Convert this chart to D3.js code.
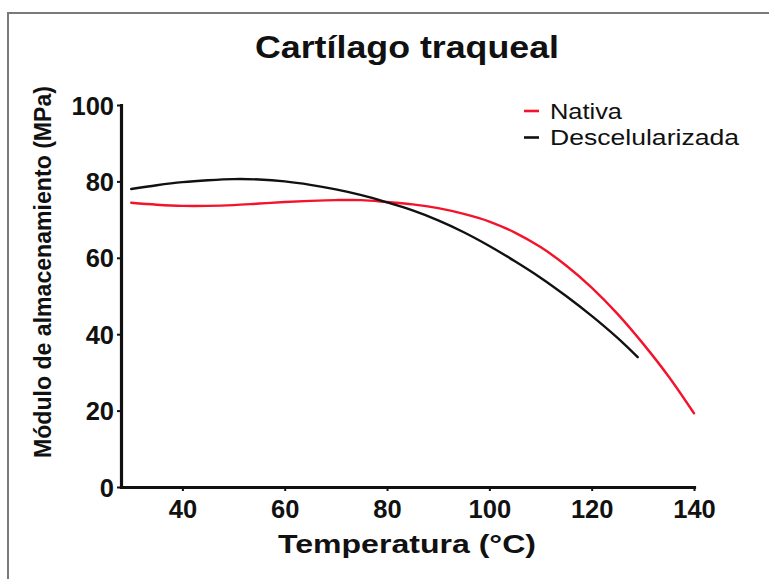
<!DOCTYPE html>
<html>
<head>
<meta charset="utf-8">
<script src="https://cdn.jsdelivr.net/npm/d3@7"></script>
<style>
  html, body { margin: 0; padding: 0; background: #fff; }
  svg { display: block; }
  text { font-family: "Liberation Sans", Arial, sans-serif; fill: #111; }
</style>
</head>
<body>
<svg id="chart" width="769" height="579"></svg>
<script>
// Storage modulus of tracheal cartilage versus temperature
const temperaturaNativa = [30, 35, 40, 45, 50, 55, 60, 65, 70, 75, 80, 85, 90, 95, 100, 105, 110, 115, 120, 125, 130, 135, 140];
const moduloNativa      = [74.4, 73.9, 73.6, 73.6, 73.8, 74.2, 74.6, 74.9, 75.1, 75.1, 74.6, 74.0, 73.0, 71.5, 69.5, 66.6, 62.8, 58.0, 52.2, 45.4, 37.6, 29.0, 19.3];

const temperaturaDescel = [30, 35, 40, 45, 50, 55, 60, 65, 70, 75, 80, 85, 90, 95, 100, 105, 110, 115, 120, 125, 129];
const moduloDescel      = [78.0, 79.0, 79.8, 80.3, 80.6, 80.5, 80.0, 79.1, 77.9, 76.4, 74.5, 72.4, 69.8, 66.7, 63.1, 59.1, 54.8, 50.0, 44.8, 39.1, 34.0];

const xTicks = [40, 60, 80, 100, 120, 140];
const yTicks = [0, 20, 40, 60, 80, 100];

const seriesNames  = ["Nativa", "Descelularizada"];
const seriesColors = ["#f3142c", "#111111"];

const svg = d3.select("#chart");

// outer frame
svg.append("path")
  .attr("d", "M8,579V13H769")
  .attr("fill", "none")
  .attr("stroke", "#7a7a7a")
  .attr("stroke-width", 2);

const x = d3.scaleLinear().domain([28, 140]).range([121, 694]);
const y = d3.scaleLinear().domain([0, 100]).range([487, 105]);

// title
svg.append("text")
  .attr("x", 407).attr("y", 58)
  .attr("text-anchor", "middle")
  .attr("font-size", 31)
  .attr("font-weight", "bold")
  .attr("textLength", 304)
  .attr("lengthAdjust", "spacingAndGlyphs")
  .text("Cartílago traqueal");

// axes
const xAxis = svg.append("g")
  .attr("transform", `translate(0,${y(0)})`)
  .call(d3.axisBottom(x).tickValues(xTicks).tickSize(4).tickSizeOuter(0).tickPadding(9));

const yAxis = svg.append("g")
  .attr("transform", `translate(${x(28)},0)`)
  .call(d3.axisLeft(y).tickValues(yTicks).tickSize(4).tickSizeOuter(0).tickPadding(3));

[xAxis, yAxis].forEach(g => {
  g.select(".domain").attr("stroke", "#111").attr("stroke-width", 3.2).attr("stroke-linecap", "square");
  g.selectAll(".tick line").attr("stroke", "#111").attr("stroke-width", 2);
  g.selectAll(".tick text")
    .attr("font-size", 25.5)
    .attr("font-weight", "bold")
    .attr("fill", "#111")
    .attr("font-family", "'Liberation Sans', Arial, sans-serif");
});
yAxis.selectAll(".tick text").attr("dy", "0.36em");

// axis titles
svg.append("text")
  .attr("x", 407).attr("y", 553)
  .attr("text-anchor", "middle")
  .attr("font-size", 26)
  .attr("font-weight", "bold")
  .attr("textLength", 258)
  .attr("lengthAdjust", "spacingAndGlyphs")
  .text("Temperatura (°C)");

svg.append("text")
  .attr("transform", "translate(51,272) rotate(-90)")
  .attr("text-anchor", "middle")
  .attr("font-size", 23.5)
  .attr("font-weight", "bold")
  .attr("textLength", 372)
  .attr("lengthAdjust", "spacingAndGlyphs")
  .text("Módulo de almacenamiento (MPa)");

// curves
const series = [
  { t: temperaturaNativa, v: moduloNativa },
  { t: temperaturaDescel, v: moduloDescel }
];

const line = d3.line()
  .x(d => x(d[0]))
  .y(d => y(d[1]))
  .curve(d3.curveCatmullRom.alpha(0.5));

series.forEach((s, i) => {
  svg.append("path")
    .datum(s.t.map((t, k) => [t, s.v[k]]))
    .attr("fill", "none")
    .attr("stroke", seriesColors[i])
    .attr("stroke-width", 2.4)
    .attr("stroke-linecap", "round")
    .attr("d", line);
});

// legend
const legendLens = [72, 189];
const legend = svg.append("g");
seriesNames.forEach((name, i) => {
  const yy = 111 + i * 26.5;
  legend.append("line")
    .attr("x1", 524).attr("x2", 539)
    .attr("y1", yy).attr("y2", yy)
    .attr("stroke", seriesColors[i])
    .attr("stroke-width", 2.6);
  legend.append("text")
    .attr("x", 550).attr("y", yy + 7.5)
    .attr("font-size", 22.5)
    .attr("textLength", legendLens[i])
    .attr("lengthAdjust", "spacingAndGlyphs")
    .text(name);
});
</script>
</body>
</html>
